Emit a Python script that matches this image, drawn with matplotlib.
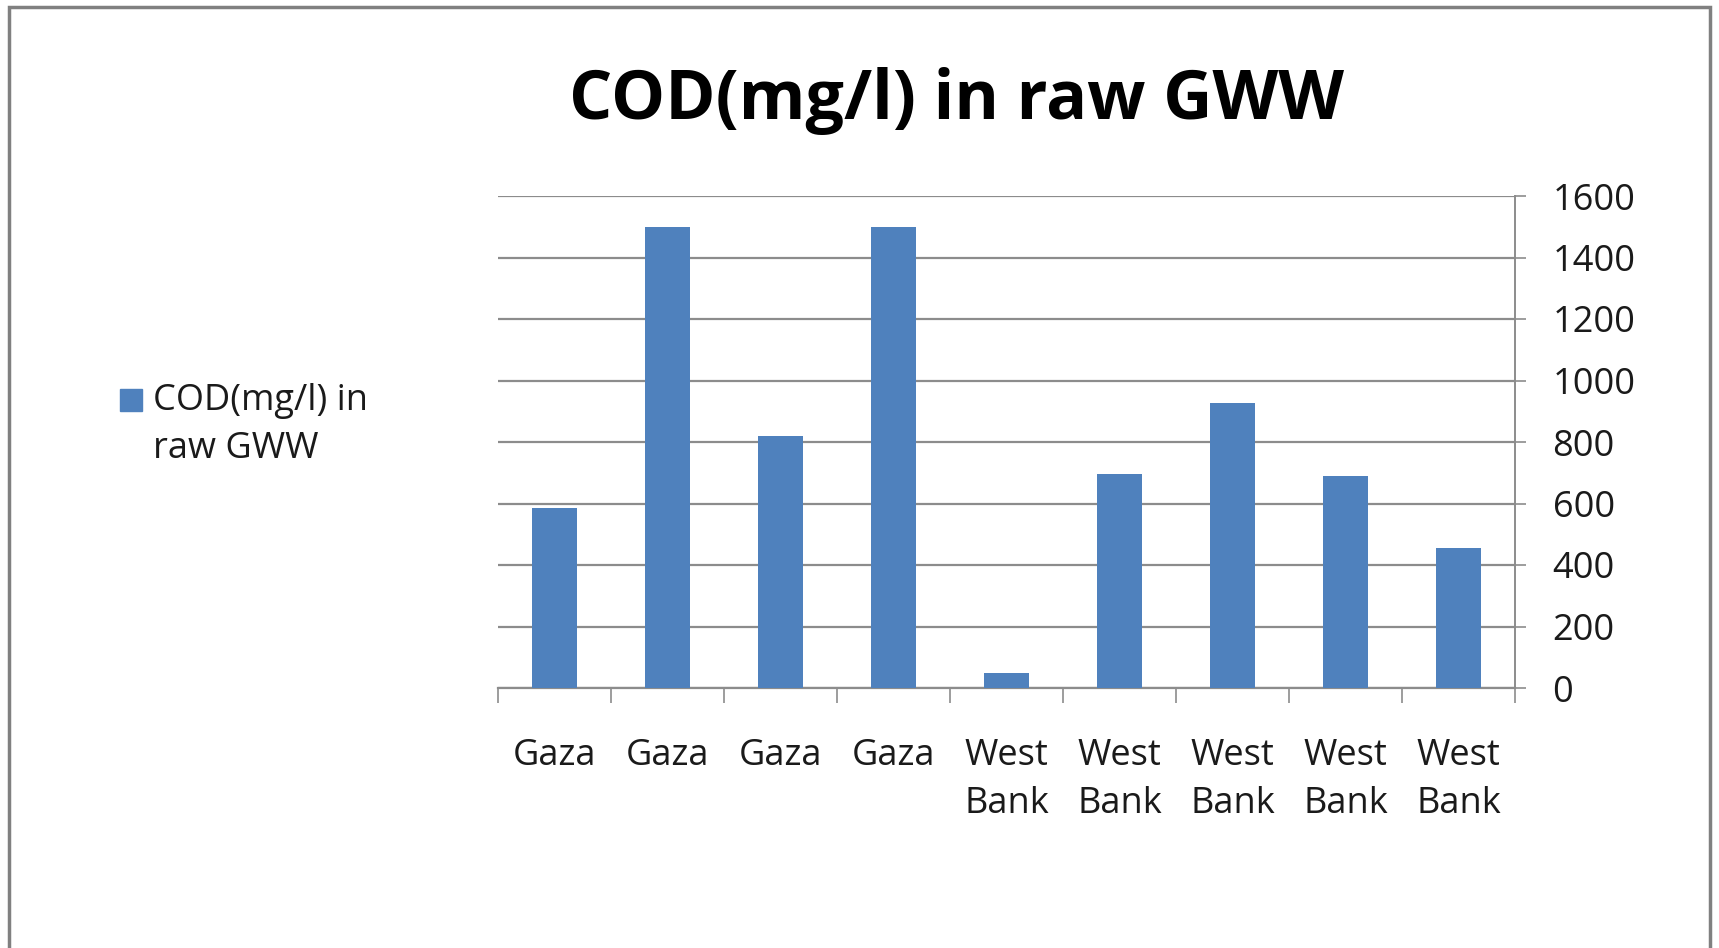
import matplotlib
matplotlib.use("Agg")
import matplotlib.pyplot as plt
from matplotlib.patches import Rectangle

categories = ["Gaza", "Gaza", "Gaza", "Gaza", "West\nBank", "West\nBank",
              "West\nBank", "West\nBank", "West\nBank"]
cod_values = [585, 1500, 818, 1500, 48, 695, 928, 688, 455]
y_ticks = [0, 200, 400, 600, 800, 1000, 1200, 1400, 1600]
series_name = "COD(mg/l) in\nraw GWW"
title_text = "COD(mg/l) in raw GWW"

bar_color = "#4F81BD"
grid_color = "#8C8C8C"
text_color = "#1A1A1A"
font = "Open Sans"

fig = plt.figure(figsize=(17.19, 9.48), dpi=100)
fig.patch.set_facecolor("white")

# outer chart frame (open at the bottom)
frame = Rectangle((9 / 1719, -0.05), (1710 - 9) / 1719, 1.05 - 7 / 948,
                  transform=fig.transFigure, fill=False,
                  edgecolor="#808080", linewidth=2.5)
fig.add_artist(frame)

ax = fig.add_axes([498 / 1719, 1 - 688 / 948, (1515 - 498) / 1719, (688 - 196) / 948])
x = list(range(len(categories)))
ax.bar(x, cod_values, width=0.4, color=bar_color, zorder=3)

ax.set_xlim(-0.5, len(categories) - 0.5)
ax.set_ylim(0, 1600)
ax.set_yticks(y_ticks)
ax.yaxis.tick_right()
ax.yaxis.set_label_position("right")
ax.grid(axis="y", color=grid_color, linewidth=1.6, zorder=0)

for side in ["top", "left"]:
    ax.spines[side].set_visible(False)
ax.spines["right"].set_color(grid_color)
ax.spines["bottom"].set_color(grid_color)
ax.spines["right"].set_linewidth(1.4)
ax.spines["bottom"].set_linewidth(1.6)

# category boundary ticks on the x axis
ax.set_xticks([i - 0.5 for i in range(len(categories) + 1)])
ax.set_xticklabels([])
ax.set_xticks(x, minor=True)
ax.set_xticklabels(categories, minor=True, fontsize=26, family=font,
                   color=text_color, linespacing=1.45)
ax.tick_params(axis="x", which="major", length=11, width=1.2, color=grid_color)
ax.tick_params(axis="x", which="minor", length=0, pad=36)
ax.tick_params(axis="y", which="major", length=8, width=1.2, color=grid_color,
               labelsize=26, labelcolor=text_color, pad=19)
for lbl in ax.get_yticklabels():
    lbl.set_family(font)
for lbl in ax.get_xticklabels(minor=True):
    lbl.set_verticalalignment("top")

fig.text(956 / 1719, 1 - 101 / 948, title_text, ha="center", va="center",
         fontsize=49, fontweight="bold", family=font, color="black")

# legend entry
fig.add_artist(Rectangle((120 / 1719, 1 - 411 / 948), 22 / 1719, 22 / 948,
                         transform=fig.transFigure, color=bar_color))
fig.text(153 / 1719, 1 - 383 / 948, series_name, ha="left", va="top",
         fontsize=26, family=font, color=text_color, linespacing=1.45)

fig.savefig("out.png", dpi=100)
